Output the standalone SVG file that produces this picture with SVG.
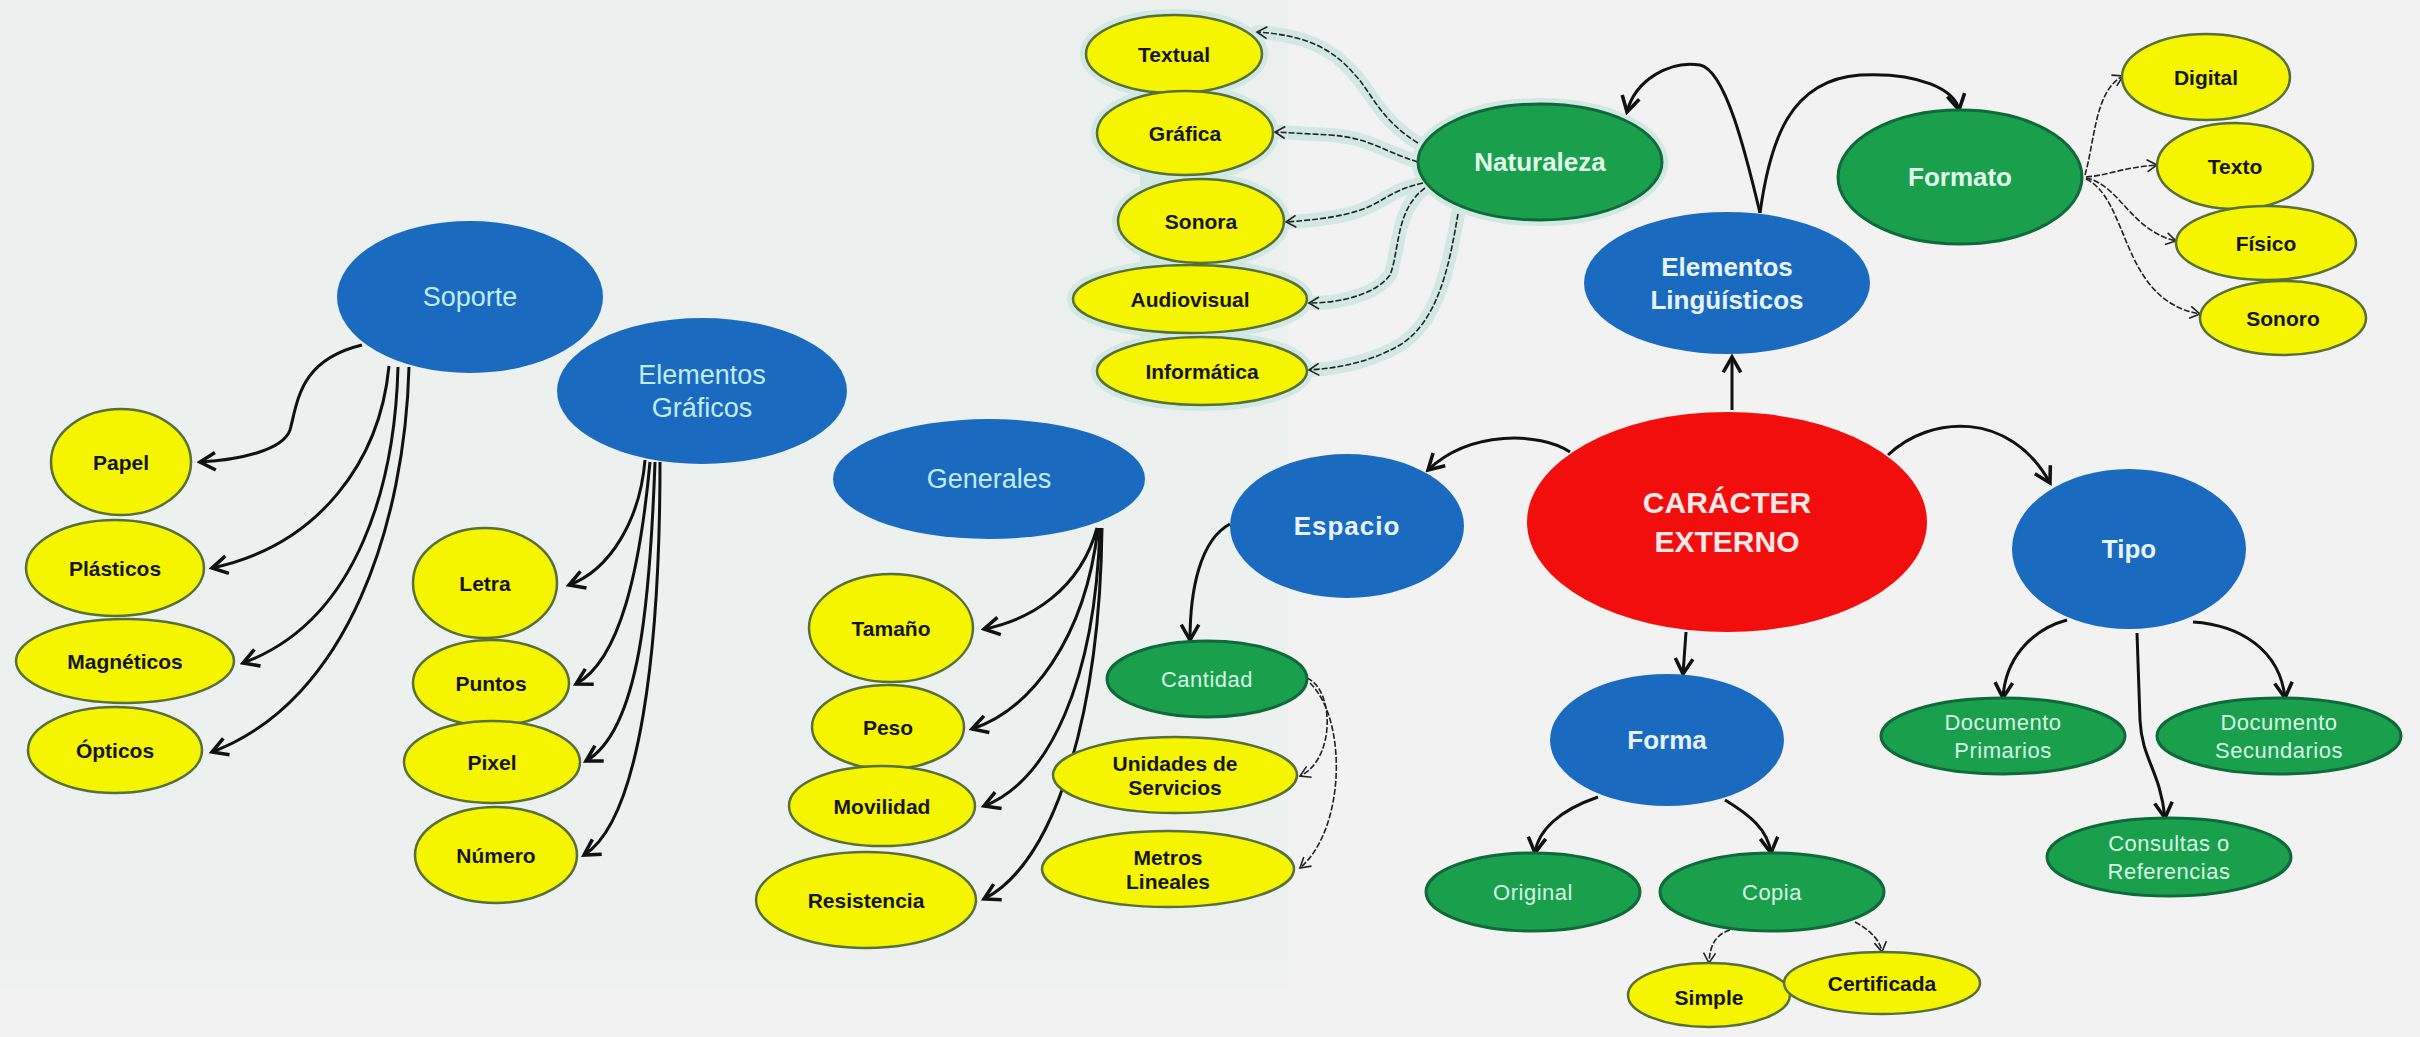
<svg xmlns="http://www.w3.org/2000/svg" width="2420" height="1037" viewBox="0 0 2420 1037">
<defs>
<style>
.bl{fill:#1a6bbf}
.rd{fill:#f30e0e}
.gr{fill:#1a9f4c;stroke:#0e6a3a;stroke-width:3}
.ye{fill:#f5f500;stroke:#56703c;stroke-width:2.5}
.halo{fill:none;stroke:#d2e9e3;stroke-width:12}
.t{font-family:"Liberation Sans",Arial,sans-serif;text-anchor:middle;dominant-baseline:central}
.ty{font-size:21px;font-weight:bold;fill:#151515}
.tbr{font-size:27px;fill:#c2ebf8}
.tbb{font-size:26px;font-weight:bold;fill:#e8f3ff}
.tg{font-size:22px;fill:#d6f8e4;letter-spacing:0.5px}
.tgb{font-size:26px;font-weight:bold;fill:#e0fbea}
.tr{font-size:30px;font-weight:bold;fill:#ffe8e8}
.c{fill:none;stroke:#111;stroke-width:3;marker-end:url(#ah)}
.cs{fill:none;stroke:#222;stroke-width:1.6;stroke-dasharray:6 2;marker-end:url(#as)}
.hl{fill:none;stroke:#d2e9e3;stroke-width:14;stroke-linecap:round}
</style>
<marker id="ah" markerUnits="userSpaceOnUse" markerWidth="22" markerHeight="22" viewBox="0 0 20 20" refX="17" refY="10" orient="auto">
<path d="M3,2 L17,10 L3,18" fill="none" stroke="#111" stroke-width="3.2" stroke-linejoin="miter"/>
</marker>
<marker id="as" markerUnits="userSpaceOnUse" markerWidth="14" markerHeight="14" viewBox="0 0 14 14" refX="12" refY="7" orient="auto">
<path d="M2,1 L12,7 L2,13" fill="none" stroke="#222" stroke-width="1.6"/>
</marker>
</defs>
<rect width="2420" height="1037" fill="#f2f2f2"/>
<rect x="0" y="0" width="1288" height="988" fill="#ecf0ee"/>
<rect x="0" y="960" width="1288" height="28" fill="#eef1f0"/>

<g id="halo-naturaleza">
<path class="hl" d="M1418,143 C1380,120 1370,90 1355,75 C1330,45 1300,35 1257,32"/>
<path class="hl" d="M1418,162 C1380,150 1370,138 1330,135 L1280,132"/>
<path class="hl" d="M1423,183 C1370,195 1390,215 1290,222"/>
<path class="hl" d="M1425,188 C1395,210 1400,250 1390,275 C1375,295 1340,303 1312,303"/>
<path class="hl" d="M1458,214 C1450,260 1440,320 1400,345 C1370,362 1340,368 1312,370"/>
<ellipse class="halo" cx="1174" cy="54" rx="88" ry="39"/>
<ellipse class="halo" cx="1185" cy="133" rx="88" ry="42"/>
<ellipse class="halo" cx="1201" cy="221" rx="83" ry="42"/>
<ellipse class="halo" cx="1190" cy="299" rx="117" ry="34"/>
<ellipse class="halo" cx="1202" cy="371" rx="105" ry="34"/>
<ellipse class="halo" cx="1540" cy="162" rx="122" ry="58"/>
<rect x="1140" y="70" width="80" height="280" fill="#d2e9e3"/>
</g>

<g id="connectors">
<path class="c" d="M362,345 C300,360 298,400 290,430 C283,450 240,460 200,462"/>
<path class="c" d="M389,366 C380,460 320,545 212,568"/>
<path class="c" d="M398,367 C395,480 360,620 243,663"/>
<path class="c" d="M409,367 C405,520 350,700 212,752"/>
<path class="c" d="M645,460 C640,520 610,570 569,585"/>
<path class="c" d="M650,462 C640,570 620,660 576,684"/>
<path class="c" d="M655,462 C650,600 640,730 586,761"/>
<path class="c" d="M660,462 C660,650 640,820 584,855"/>
<path class="c" d="M1097,528 C1080,590 1030,620 984,629"/>
<path class="c" d="M1098,528 C1085,640 1030,710 972,729"/>
<path class="c" d="M1100,528 C1095,680 1050,780 984,806"/>
<path class="c" d="M1102,528 C1100,700 1060,860 984,899"/>
<path class="c" d="M1230,524 C1200,540 1190,590 1190,640"/>
<path class="cs" d="M1307,678 C1335,690 1335,760 1300,776"/>
<path class="cs" d="M1310,683 C1348,720 1345,830 1300,868"/>
<path class="c" d="M1570,452 C1540,432 1470,430 1428,470"/>
<path class="c" d="M1732,410 L1732,357"/>
<path class="c" d="M1888,455 C1930,415 2010,410 2050,483"/>
<path class="c" d="M1686,632 L1683,674"/>
<path class="c" d="M1598,797 C1560,810 1538,830 1535,853"/>
<path class="c" d="M1725,800 C1750,815 1768,830 1771,853"/>
<path class="cs" d="M1730,930 C1715,935 1710,945 1709,963"/>
<path class="cs" d="M1855,922 C1870,930 1880,940 1882,952"/>
<path class="c" d="M2067,620 C2030,630 2005,660 2003,698"/>
<path class="c" d="M2137,633 L2140,720 C2142,760 2160,770 2165,818"/>
<path class="c" d="M2193,622 C2240,625 2280,650 2285,698"/>
<path class="c" d="M1760,213 C1745,150 1725,70 1700,65 C1670,60 1635,80 1627,112"/>
<path class="c" d="M1760,213 C1770,140 1790,80 1860,75 C1920,72 1955,90 1959,110"/>
<path class="cs" d="M1418,143 C1380,120 1370,90 1355,75 C1330,45 1300,35 1257,32"/>
<path class="cs" d="M1418,162 C1380,150 1370,138 1330,135 L1275,132"/>
<path class="cs" d="M1423,183 C1370,195 1390,215 1286,222"/>
<path class="cs" d="M1425,188 C1395,210 1400,250 1390,275 C1375,295 1340,303 1309,303"/>
<path class="cs" d="M1458,214 C1450,260 1440,320 1400,345 C1370,362 1340,368 1309,370"/>
<path class="cs" d="M2085,175 C2095,140 2095,90 2123,76"/>
<path class="cs" d="M2086,177 C2110,175 2120,168 2157,165"/>
<path class="cs" d="M2086,178 C2120,185 2130,230 2176,241"/>
<path class="cs" d="M2086,179 C2130,200 2120,300 2200,314"/>
</g>

<g id="soporte"><ellipse class="bl" cx="470" cy="297" rx="133" ry="76"/><text class="t tbr" x="470" y="297">Soporte</text></g>
<g id="elementos-graficos"><ellipse class="bl" cx="702" cy="391" rx="145" ry="73"/><text class="t tbr" x="702" y="375">Elementos</text><text class="t tbr" x="702" y="408">Gráficos</text></g>
<g id="generales"><ellipse class="bl" cx="989" cy="479" rx="156" ry="60"/><text class="t tbr" x="989" y="479">Generales</text></g>
<g id="papel"><ellipse class="ye" cx="121" cy="462" rx="70" ry="53"/><text class="t ty" x="121" y="462">Papel</text></g>
<g id="plasticos"><ellipse class="ye" cx="115" cy="568" rx="89" ry="48"/><text class="t ty" x="115" y="568">Plásticos</text></g>
<g id="magneticos"><ellipse class="ye" cx="125" cy="661" rx="109" ry="42"/><text class="t ty" x="125" y="661">Magnéticos</text></g>
<g id="opticos"><ellipse class="ye" cx="115" cy="750" rx="87" ry="43"/><text class="t ty" x="115" y="750">Ópticos</text></g>
<g id="letra"><ellipse class="ye" cx="485" cy="583" rx="72" ry="55"/><text class="t ty" x="485" y="583">Letra</text></g>
<g id="puntos"><ellipse class="ye" cx="491" cy="683" rx="78" ry="43"/><text class="t ty" x="491" y="683">Puntos</text></g>
<g id="pixel"><ellipse class="ye" cx="492" cy="762" rx="88" ry="41"/><text class="t ty" x="492" y="762">Pixel</text></g>
<g id="numero"><ellipse class="ye" cx="496" cy="855" rx="81" ry="48"/><text class="t ty" x="496" y="855">Número</text></g>
<g id="tamano"><ellipse class="ye" cx="891" cy="628" rx="82" ry="54"/><text class="t ty" x="891" y="628">Tamaño</text></g>
<g id="peso"><ellipse class="ye" cx="888" cy="727" rx="76" ry="42"/><text class="t ty" x="888" y="727">Peso</text></g>
<g id="movilidad"><ellipse class="ye" cx="882" cy="806" rx="93" ry="40"/><text class="t ty" x="882" y="806">Movilidad</text></g>
<g id="resistencia"><ellipse class="ye" cx="866" cy="900" rx="110" ry="48"/><text class="t ty" x="866" y="900">Resistencia</text></g>
<g id="espacio"><ellipse class="bl" cx="1347" cy="526" rx="117" ry="72"/><text class="t tbb" x="1347" y="526" style="letter-spacing:1px">Espacio</text></g>
<g id="cantidad"><ellipse class="gr" cx="1207" cy="679" rx="100" ry="38"/><text class="t tg" x="1207" y="679">Cantidad</text></g>
<g id="unidades"><ellipse class="ye" cx="1175" cy="775" rx="122" ry="38"/><text class="t ty" x="1175" y="763">Unidades de</text><text class="t ty" x="1175" y="787">Servicios</text></g>
<g id="metros"><ellipse class="ye" cx="1168" cy="869" rx="126" ry="38"/><text class="t ty" x="1168" y="857">Metros</text><text class="t ty" x="1168" y="881">Lineales</text></g>
<g id="caracter"><ellipse class="rd" cx="1727" cy="522" rx="200" ry="110"/><text class="t tr" x="1727" y="502">CARÁCTER</text><text class="t tr" x="1727" y="541">EXTERNO</text></g>
<g id="tipo"><ellipse class="bl" cx="2129" cy="549" rx="117" ry="80"/><text class="t tbb" x="2129" y="549">Tipo</text></g>
<g id="elementos-linguisticos"><ellipse class="bl" cx="1727" cy="283" rx="143" ry="71"/><text class="t tbb" x="1727" y="267">Elementos</text><text class="t tbb" x="1727" y="300">Lingüísticos</text></g>
<g id="naturaleza"><ellipse class="gr" cx="1540" cy="162" rx="122" ry="58"/><text class="t tgb" x="1540" y="162">Naturaleza</text></g>
<g id="formato"><ellipse class="gr" cx="1960" cy="177" rx="122" ry="67"/><text class="t tgb" x="1960" y="177">Formato</text></g>
<g id="textual"><ellipse class="ye" cx="1174" cy="54" rx="88" ry="39"/><text class="t ty" x="1174" y="54">Textual</text></g>
<g id="grafica"><ellipse class="ye" cx="1185" cy="133" rx="88" ry="42"/><text class="t ty" x="1185" y="133">Gráfica</text></g>
<g id="sonora"><ellipse class="ye" cx="1201" cy="221" rx="83" ry="42"/><text class="t ty" x="1201" y="221">Sonora</text></g>
<g id="audiovisual"><ellipse class="ye" cx="1190" cy="299" rx="117" ry="34"/><text class="t ty" x="1190" y="299">Audiovisual</text></g>
<g id="informatica"><ellipse class="ye" cx="1202" cy="371" rx="105" ry="34"/><text class="t ty" x="1202" y="371">Informática</text></g>
<g id="digital"><ellipse class="ye" cx="2206" cy="77" rx="84" ry="43"/><text class="t ty" x="2206" y="77">Digital</text></g>
<g id="texto"><ellipse class="ye" cx="2235" cy="166" rx="78" ry="43"/><text class="t ty" x="2235" y="166">Texto</text></g>
<g id="fisico"><ellipse class="ye" cx="2266" cy="243" rx="90" ry="37"/><text class="t ty" x="2266" y="243">Físico</text></g>
<g id="sonoro"><ellipse class="ye" cx="2283" cy="318" rx="83" ry="37"/><text class="t ty" x="2283" y="318">Sonoro</text></g>
<g id="forma"><ellipse class="bl" cx="1667" cy="740" rx="117" ry="66"/><text class="t tbb" x="1667" y="740">Forma</text></g>
<g id="original"><ellipse class="gr" cx="1533" cy="892" rx="107" ry="39"/><text class="t tg" x="1533" y="892">Original</text></g>
<g id="copia"><ellipse class="gr" cx="1772" cy="892" rx="112" ry="39"/><text class="t tg" x="1772" y="892">Copia</text></g>
<g id="simple"><ellipse class="ye" cx="1709" cy="995" rx="81" ry="32"/><text class="t ty" x="1709" y="997">Simple</text></g>
<g id="certificada"><ellipse class="ye" cx="1882" cy="983" rx="98" ry="31"/><text class="t ty" x="1882" y="983">Certificada</text></g>
<g id="doc-primarios"><ellipse class="gr" cx="2003" cy="736" rx="122" ry="38"/><text class="t tg" x="2003" y="722">Documento</text><text class="t tg" x="2003" y="750">Primarios</text></g>
<g id="doc-secundarios"><ellipse class="gr" cx="2279" cy="736" rx="122" ry="38"/><text class="t tg" x="2279" y="722">Documento</text><text class="t tg" x="2279" y="750">Secundarios</text></g>
<g id="consultas"><ellipse class="gr" cx="2169" cy="857" rx="122" ry="39"/><text class="t tg" x="2169" y="843">Consultas o</text><text class="t tg" x="2169" y="871">Referencias</text></g>
</svg>
